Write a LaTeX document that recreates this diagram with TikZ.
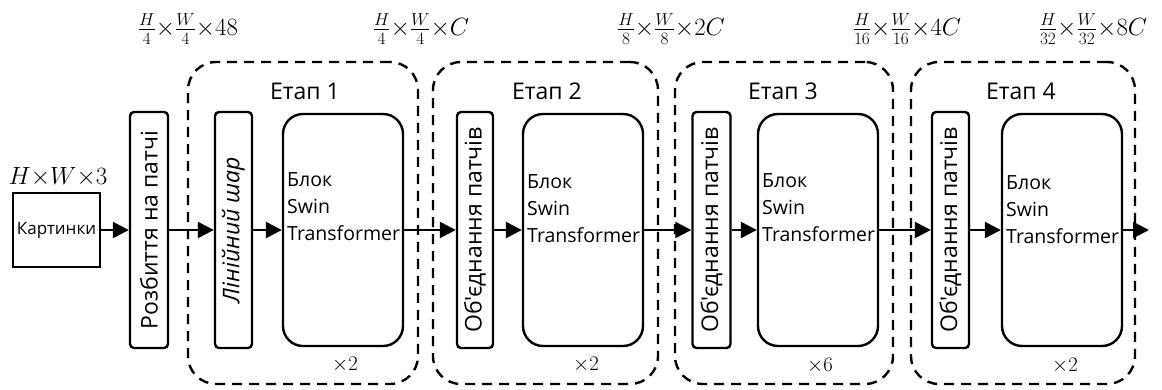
\documentclass[tikz,border=0pt]{standalone}
\usepackage{fontspec}
\setmainfont{Open Sans}[Ligatures=TeXOff]
\usetikzlibrary{arrows.meta}

\begin{document}
\begin{tikzpicture}[x=1pt,y=-1pt,
  stage/.style={draw, line width=2.4pt, dash pattern=on 10pt off 7pt,
    rounded corners=28pt, minimum height=322pt, inner sep=0pt},
  thin box/.style={draw, line width=2.4pt, rounded corners=4pt, rotate=90,
    minimum width=236pt, inner sep=0pt, font=\fontsize{23}{27}\selectfont},
  swin/.style={draw, line width=2.4pt, rounded corners=20pt,
    minimum width=120pt, minimum height=232pt, inner sep=0pt},
  swintext/.style={anchor=west, inner sep=0pt, align=left,
    font=\fontsize{19.5}{27}\selectfont},
  arr/.style={line width=2.4pt, -{Triangle[length=16pt,width=16pt]}},
  dims/.style={font=\fontsize{24}{28}\selectfont, inner sep=0pt},
  stagename/.style={font=\fontsize{23}{27}\selectfont, inner sep=0pt},
  reps/.style={font=\fontsize{20}{24}\selectfont, inner sep=0pt}
]
\useasboundingbox (0,0) rectangle (1162,389);

% stage frames
\node[stage, minimum width=230pt] (st1) at (303,223) {};
\node[stage, minimum width=225pt] (st2) at (545.5,223) {};
\node[stage, minimum width=218pt] (st3) at (784,223) {};
\node[stage, minimum width=224pt] (st4) at (1023,223) {};

\node[stagename] (n1) at (305,91) {Етап 1};
\node[stagename] (n2) at (547,91) {Етап 2};
\node[stagename] (n3) at (783,91) {Етап 3};
\node[stagename] (n4) at (1021,91) {Етап 4};

% input
\node[draw, line width=2.4pt, minimum width=87pt, minimum height=74pt, inner sep=0pt,
  font=\fontsize{17}{20}\selectfont] (img) at (56.5,230) {Картинки};
\node[dims] (d0) at (58,177) {$H{\times}W{\times}3$};

% blocks
\node[thin box, minimum height=38pt] (split) at (149,230) {Розбиття на патчі};
\node[thin box, minimum height=37pt, font=\fontsize{23}{27}\selectfont\itshape] (lin) at (233.5,230) {Лінійний шар};
\node[swin] (b1) at (343,230) {};
\node[swintext] (t1) at (287,207) {Блок\\Swin\\Transformer};

\node[thin box, minimum height=36pt] (m2) at (475,230) {Об'єднання патчів};
\node[swin] (b2) at (583,230) {};
\node[swintext] (t2) at (527,209) {Блок\\Swin\\Transformer};

\node[thin box, minimum height=38pt] (m3) at (711.5,230) {Об'єднання патчів};
\node[swin] (b3) at (818,230) {};
\node[swintext] (t3) at (762,208) {Блок\\Swin\\Transformer};

\node[thin box, minimum height=37pt] (m4) at (950.5,230) {Об'єднання патчів};
\node[swin] (b4) at (1062,230) {};
\node[swintext] (t4) at (1006,210) {Блок\\Swin\\Transformer};

\coordinate (out) at (1149,230);

% repetitions
\node[reps] (r1) at (345,365) {$\times2$};
\node[reps] (r2) at (586,365) {$\times2$};
\node[reps] (r3) at (820,366) {$\times6$};
\node[reps] (r4) at (1065,366) {$\times2$};

% feature sizes
\node[dims] (d1) at (188,29) {$\frac{H}{4}{\times}\frac{W}{4}{\times}48$};
\node[dims] (d2) at (421,29) {$\frac{H}{4}{\times}\frac{W}{4}{\times}C$};
\node[dims] (d3) at (671,29) {$\frac{H}{8}{\times}\frac{W}{8}{\times}2C$};
\node[dims] (d4) at (907,29) {$\frac{H}{16}{\times}\frac{W}{16}{\times}4C$};
\node[dims] (d5) at (1093,29) {$\frac{H}{32}{\times}\frac{W}{32}{\times}8C$};

% data flow
\draw[arr] (img) -- (split);
\draw[arr] (split) -- (lin);
\draw[arr] (lin) -- (b1);
\draw[arr] (b1) -- (m2);
\draw[arr] (m2) -- (b2);
\draw[arr] (b2) -- (m3);
\draw[arr] (m3) -- (b3);
\draw[arr] (b3) -- (m4);
\draw[arr] (m4) -- (b4);
\draw[arr] (b4) -- (out);
\end{tikzpicture}
\end{document}
